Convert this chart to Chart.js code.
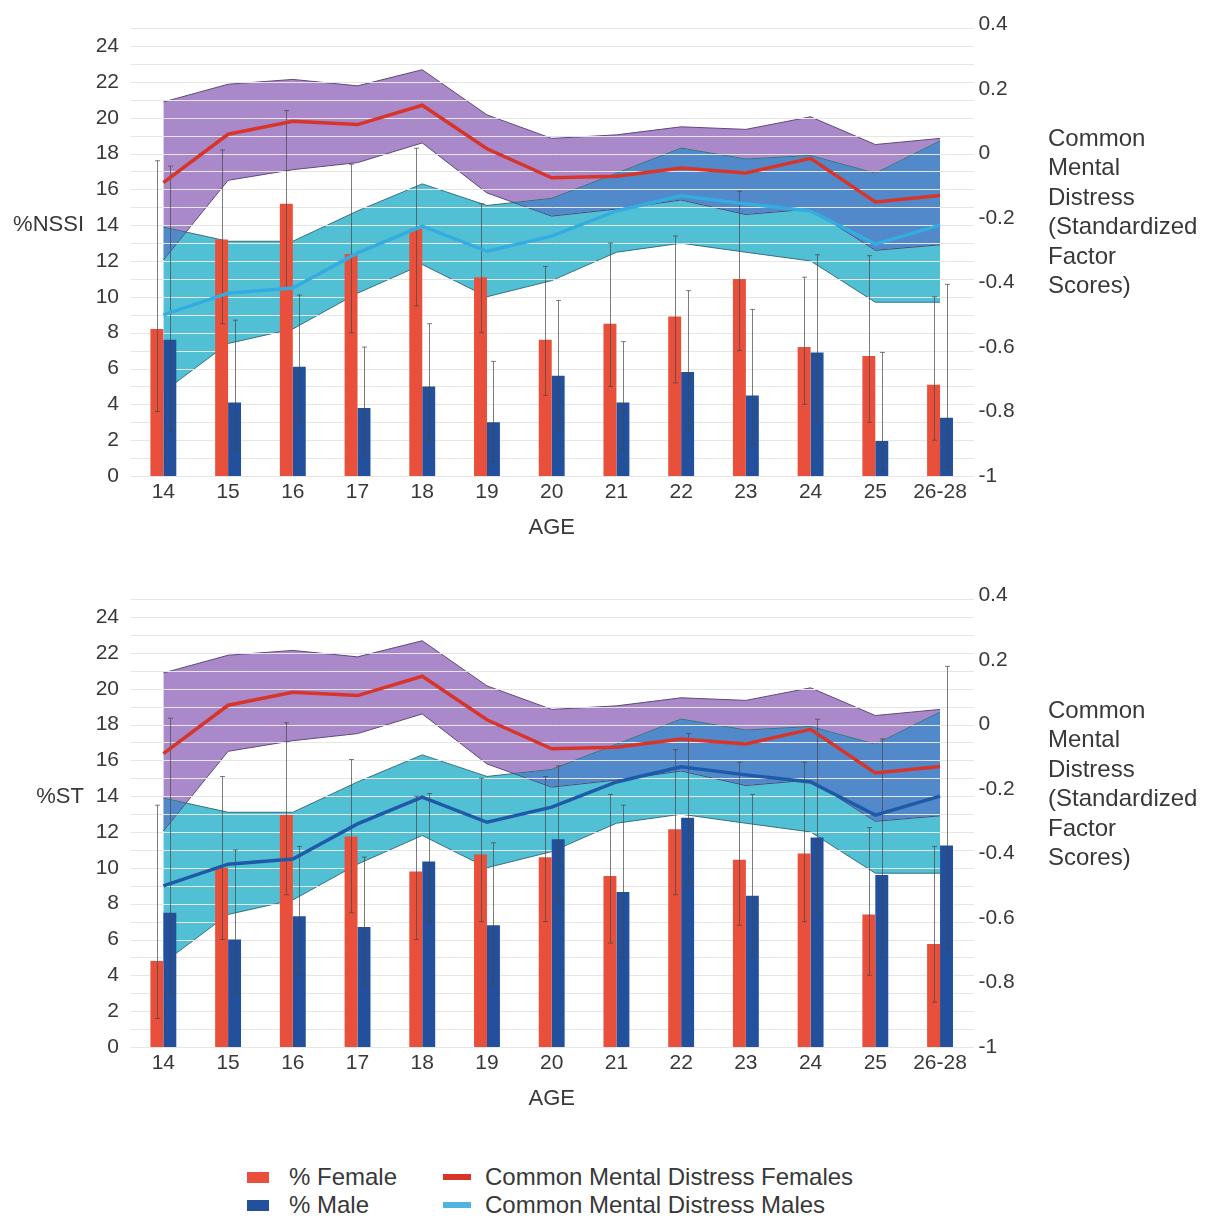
<!DOCTYPE html>
<html>
<head>
<meta charset="utf-8">
<script src="https://cdn.jsdelivr.net/npm/chart.js@4/dist/chart.umd.min.js"></script>
<style>
body { margin: 0; background: #fff; width: 1210px; height: 1218px; position: relative; overflow: hidden;
       font-family: "Liberation Sans", Arial, sans-serif; color: #383838; }
canvas { position: absolute; left: 0; }
#c1 { top: 0; }
#c2 { top: 571px; }
.ylab { position: absolute; left: 0; width: 84px; text-align: right; font-size: 22px; line-height: 26px; }
.rtitle { position: absolute; left: 1048px; font-size: 24px; line-height: 29.4px; }
.leg { position: absolute; font-size: 24px; line-height: 28px; white-space: nowrap; }
.sw { position: absolute; }
</style>
</head>
<body>
<canvas id="c1" width="1210" height="546"></canvas>
<canvas id="c2" width="1210" height="546"></canvas>

<div class="ylab" style="top:211px">%NSSI</div>
<div class="ylab" style="top:783px">%ST</div>
<div class="rtitle" style="top:123px">Common<br>Mental<br>Distress<br>(Standardized<br>Factor<br>Scores)</div>
<div class="rtitle" style="top:695px">Common<br>Mental<br>Distress<br>(Standardized<br>Factor<br>Scores)</div>

<div class="sw" style="left:247px;top:1172px;width:22px;height:11px;background:#e9503c"></div>
<div class="leg" style="left:289px;top:1163px">% Female</div>
<div class="sw" style="left:443px;top:1174px;width:28px;height:6px;background:#d8352a"></div>
<div class="leg" style="left:485px;top:1163px">Common Mental Distress Females</div>
<div class="sw" style="left:247px;top:1200px;width:22px;height:11px;background:#22509c"></div>
<div class="leg" style="left:289px;top:1191px">% Male</div>
<div class="sw" style="left:443px;top:1202px;width:28px;height:6px;background:#4fb4e0"></div>
<div class="leg" style="left:485px;top:1191px">Common Mental Distress Males</div>

<script>
const ages = ['14', '15', '16', '17', '18', '19', '20', '21', '22', '23', '24', '25', '26-28'];

// % NSSI by age (bars) with interval ends
const nssiFemale = [8.2, 13.2, 15.2, 12.4, 13.8, 11.1, 7.6, 8.5, 8.9, 11.0, 7.2, 6.7, 5.1];
const nssiFemaleLow = [3.6, 8.5, 10.5, 8.0, 9.5, 8.0, 4.5, 5.0, 5.2, 7.0, 4.0, 3.0, 2.0];
const nssiFemaleHigh = [17.6, 18.2, 20.4, 17.4, 18.3, 15.2, 11.7, 13.0, 13.4, 15.9, 11.1, 12.3, 10.0];
const nssiMale = [7.6, 4.1, 6.1, 3.8, 5.0, 3.0, 5.6, 4.1, 5.8, 4.5, 6.9, 1.95, 3.25];
const nssiMaleLow = [2.5, 1.5, 3.0, 1.2, 2.0, 0.8, 2.5, 1.5, 2.5, 1.8, 3.0, 0.3, 0.5];
const nssiMaleHigh = [17.3, 8.7, 10.1, 7.2, 8.5, 6.4, 9.8, 7.5, 10.35, 9.3, 12.35, 6.9, 10.7];

// % ST by age
const stFemale = [4.8, 10.0, 12.95, 11.75, 9.8, 10.75, 10.6, 9.55, 12.15, 10.45, 10.8, 7.4, 5.75];
const stFemaleLow = [1.6, 6.0, 8.5, 7.5, 6.0, 7.0, 7.0, 5.8, 8.5, 6.8, 7.0, 4.0, 2.5];
const stFemaleHigh = [13.5, 15.1, 18.1, 16.05, 14.0, 15.0, 15.1, 14.1, 16.6, 15.9, 15.9, 12.25, 11.2];
const stMale = [7.5, 6.0, 7.3, 6.7, 10.35, 6.8, 11.6, 8.65, 12.8, 8.45, 11.7, 9.6, 11.25];
const stMaleLow = [3.0, 3.0, 4.0, 3.5, 7.0, 3.5, 8.0, 5.0, 9.0, 5.0, 7.5, 5.0, 5.5];
const stMaleHigh = [18.35, 11.0, 11.2, 10.6, 14.15, 11.4, 15.7, 13.5, 17.5, 14.1, 18.3, 17.2, 21.25];

// common mental distress (standardized factor scores) with bands
const cmdFemale = [-0.09, 0.06, 0.10, 0.09, 0.15, 0.015, -0.075, -0.07, -0.045, -0.06, -0.015, -0.15, -0.13];
const cmdFemaleLow = [-0.33, -0.083, -0.05, -0.028, 0.033, -0.122, -0.194, -0.172, -0.144, -0.189, -0.172, -0.30, -0.283];
const cmdFemaleHigh = [0.16, 0.215, 0.23, 0.21, 0.26, 0.12, 0.047, 0.058, 0.083, 0.075, 0.114, 0.028, 0.047];
const cmdMale = [-0.50, -0.433, -0.417, -0.308, -0.225, -0.303, -0.256, -0.178, -0.131, -0.156, -0.178, -0.281, -0.222];
const cmdMaleLow = [-0.739, -0.589, -0.544, -0.433, -0.344, -0.444, -0.394, -0.306, -0.278, -0.306, -0.333, -0.461, -0.461];
const cmdMaleHigh = [-0.228, -0.272, -0.272, -0.178, -0.094, -0.161, -0.139, -0.061, 0.017, -0.017, -0.006, -0.061, 0.039];

Chart.defaults.font.family = '"Liberation Sans", Arial, sans-serif';
Chart.defaults.color = '#383838';

// bands blend with "darken", then light grid over them, bars/lines on top; error bars after each bar set
const layers = {
    id: 'layers',
    beforeDatasetsDraw(chart) {
        chart.ctx.save();
        chart.ctx.globalCompositeOperation = 'darken';
    },
    afterDatasetDraw(chart, args) {
        const ctx = chart.ctx;
        const ds = chart.data.datasets[args.index];
        if (ds.lastBand) {
            ctx.restore();
            const y = chart.scales.y, a = chart.chartArea;
            ctx.save();
            ctx.strokeStyle = '#e6e6e6';
            ctx.lineWidth = 1;
            y.ticks.forEach(t => {
                const py = Math.round(y.getPixelForValue(t.value)) + 0.5;
                ctx.beginPath();
                ctx.moveTo(a.left, py);
                ctx.lineTo(a.right + 2, py);
                ctx.stroke();
            });
            ctx.restore();
        }
        if (ds.errLow) {
            const y = chart.scales.y;
            ctx.save();
            ctx.strokeStyle = 'rgba(70,70,70,0.7)';
            ctx.lineWidth = 1;
            args.meta.data.forEach((bar, i) => {
                const x = Math.round(bar.x) + 0.5;
                const top = y.getPixelForValue(ds.errHigh[i]);
                const low = y.getPixelForValue(ds.errLow[i]);
                ctx.beginPath();
                ctx.moveTo(x, low); ctx.lineTo(x, top);
                ctx.moveTo(x - 2.5, top); ctx.lineTo(x + 2.5, top);
                ctx.moveTo(x - 2.5, low); ctx.lineTo(x + 2.5, low);
                ctx.stroke();
            });
            ctx.restore();
        }
    }
};

function band(data, fill, color, edge, order, last) {
    return {
        type: 'line', data, yAxisID: 'y1', order,
        borderColor: edge, borderWidth: 1, backgroundColor: color,
        fill, pointRadius: 0, tension: 0, lastBand: last
    };
}

function makeChart(id, female, femaleLow, femaleHigh, male, maleLow, maleHigh, maleLineColor) {
    return new Chart(document.getElementById(id), {
        type: 'bar',
        data: {
            labels: ages,
            datasets: [
                band(cmdMaleLow, false, '#52c0d4', '#35707c', 8, false),
                band(cmdMaleHigh, '-1', '#52c0d4', '#35707c', 7, false),
                band(cmdFemaleLow, false, '#a989ca', '#5f4778', 6, false),
                band(cmdFemaleHigh, '-1', '#a989ca', '#5f4778', 5, true),
                {
                    label: '% Female', data: female, yAxisID: 'y', order: 3,
                    backgroundColor: '#e9503c', errLow: femaleLow, errHigh: femaleHigh,
                    categoryPercentage: 0.4, barPercentage: 1
                },
                {
                    label: '% Male', data: male, yAxisID: 'y', order: 3,
                    backgroundColor: '#22509c', errLow: maleLow, errHigh: maleHigh,
                    categoryPercentage: 0.4, barPercentage: 1
                },
                {
                    type: 'line', label: 'Common Mental Distress Females', data: cmdFemale, yAxisID: 'y1', order: 1,
                    borderColor: '#d8352a', borderWidth: 3.5, pointRadius: 0, tension: 0, fill: false
                },
                {
                    type: 'line', label: 'Common Mental Distress Males', data: cmdMale, yAxisID: 'y1', order: 1,
                    borderColor: maleLineColor, borderWidth: 3.5, pointRadius: 0, tension: 0, fill: false
                }
            ]
        },
        options: {
            responsive: false,
            animation: false,
            layout: { padding: { top: 21, left: 0, right: 0, bottom: 0 } },
            plugins: { legend: { display: false }, tooltip: { enabled: false } },
            scales: {
                x: {
                    offset: true,
                    grid: { display: false, drawTicks: false },
                    border: { display: false },
                    ticks: { font: { size: 21 }, padding: 4, autoSkip: false, maxRotation: 0 },
                    title: { display: true, text: 'AGE', font: { size: 22 }, padding: { top: 0, bottom: 5 } },
                    afterFit: s => { s.height = 70; }
                },
                y: {
                    position: 'left', min: 0, max: 25.2,
                    grid: { display: false, drawTicks: false },
                    border: { display: false },
                    ticks: {
                        stepSize: 1, includeBounds: false, autoSkip: false, padding: 12, font: { size: 21 },
                        callback: v => (v % 2 === 0 ? v : '')
                    },
                    afterFit: s => { s.width = 131; }
                },
                y1: {
                    position: 'right', min: -1, max: 0.4,
                    grid: { display: false, drawTicks: false },
                    border: { display: false },
                    ticks: { stepSize: 0.2, padding: 6, font: { size: 21 }, callback: v => String(Math.round(v * 10) / 10) },
                    afterFit: s => { s.width = 1210 - 972.4; }
                }
            }
        },
        plugins: [layers]
    });
}

makeChart('c1', nssiFemale, nssiFemaleLow, nssiFemaleHigh, nssiMale, nssiMaleLow, nssiMaleHigh, '#35ace0');
makeChart('c2', stFemale, stFemaleLow, stFemaleHigh, stMale, stMaleLow, stMaleHigh, '#1f5aa8');
</script>
</body>
</html>
